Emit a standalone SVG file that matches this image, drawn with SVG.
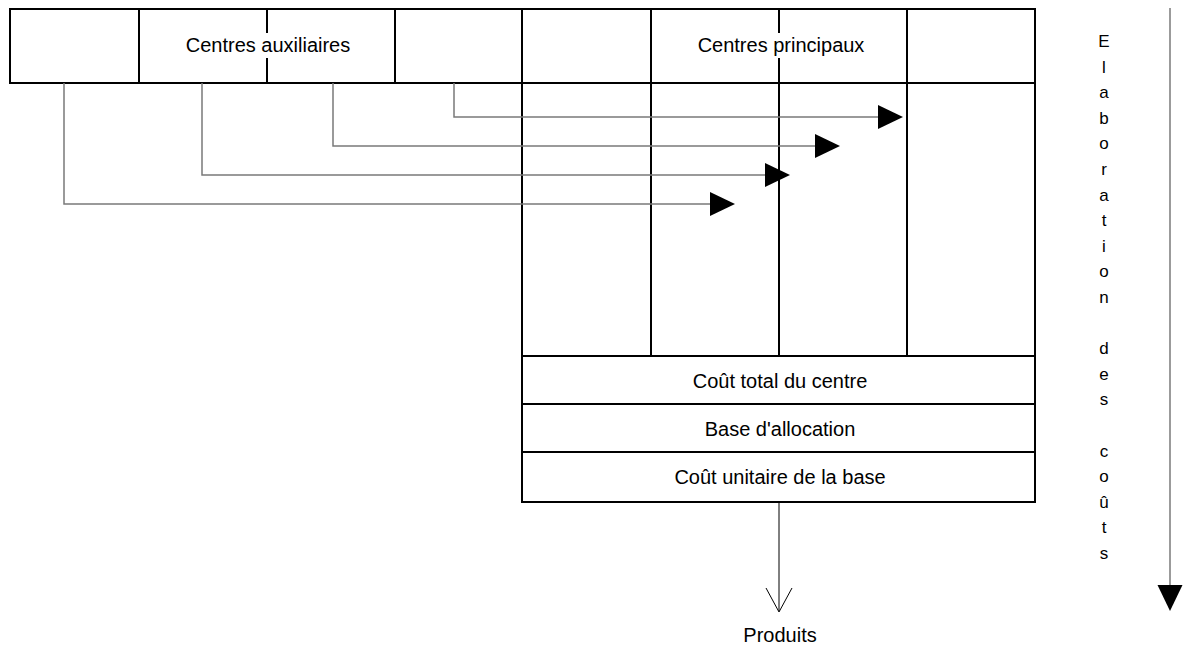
<svg xmlns="http://www.w3.org/2000/svg" width="1183" height="649" viewBox="0 0 1183 649">
<style>
.box{fill:none;stroke:#000;stroke-width:2}
.ln{fill:none;stroke:#000;stroke-width:2}
.con{fill:none;stroke:#7a7a7a;stroke-width:1.5}
.head{fill:#000;stroke:none}
.t{font-family:"Liberation Sans",Arial,sans-serif;font-size:20px;fill:#000;text-anchor:middle}
.v{font-family:"Liberation Sans",Arial,sans-serif;font-size:17px;fill:#000;text-anchor:middle}
</style>
<rect width="1183" height="649" fill="#fff"/>
<g id="centres-auxiliaires">
<rect class="box" x="10" y="9" width="512" height="74"/>
<line class="ln" x1="139" y1="9" x2="139" y2="83"/>
<line class="ln" x1="267" y1="9" x2="267" y2="33"/>
<line class="ln" x1="267" y1="58" x2="267" y2="83"/>
<line class="ln" x1="395" y1="9" x2="395" y2="83"/>
<text class="t" x="268" y="52">Centres auxiliaires</text>
</g>
<g id="centres-principaux">
<rect class="box" x="522" y="9" width="513" height="74"/>
<line class="ln" x1="651" y1="9" x2="651" y2="83"/>
<line class="ln" x1="779" y1="9" x2="779" y2="33"/>
<line class="ln" x1="779" y1="58" x2="779" y2="83"/>
<line class="ln" x1="907" y1="9" x2="907" y2="83"/>
<text class="t" x="781" y="52">Centres principaux</text>
</g>
<g id="colonnes">
<rect class="box" x="522" y="83" width="513" height="273"/>
<line class="ln" x1="651" y1="83" x2="651" y2="356"/>
<line class="ln" x1="779" y1="83" x2="779" y2="356"/>
<line class="ln" x1="907" y1="83" x2="907" y2="356"/>
</g>
<g id="cout-total">
<rect class="box" x="522" y="356" width="513" height="48"/>
<text class="t" x="780" y="388">Coût total du centre</text>
</g>
<g id="base-allocation">
<rect class="box" x="522" y="404" width="513" height="48"/>
<text class="t" x="780" y="436">Base d'allocation</text>
</g>
<g id="cout-unitaire">
<rect class="box" x="522" y="452" width="513" height="50"/>
<text class="t" x="780" y="484">Coût unitaire de la base</text>
</g>
<g id="produits">
<text class="t" x="780" y="642">Produits</text>
</g>
<g id="elaboration">
<text class="v" x="1104" y="47">E</text>
<text class="v" x="1104" y="72.6">l</text>
<text class="v" x="1104" y="98.2">a</text>
<text class="v" x="1104" y="123.8">b</text>
<text class="v" x="1104" y="149.4">o</text>
<text class="v" x="1104" y="175">r</text>
<text class="v" x="1104" y="200.6">a</text>
<text class="v" x="1104" y="226.2">t</text>
<text class="v" x="1104" y="251.8">i</text>
<text class="v" x="1104" y="277.4">o</text>
<text class="v" x="1104" y="303">n</text>
<text class="v" x="1104" y="354.2">d</text>
<text class="v" x="1104" y="379.8">e</text>
<text class="v" x="1104" y="405.4">s</text>
<text class="v" x="1104" y="456.6">c</text>
<text class="v" x="1104" y="482.2">o</text>
<text class="v" x="1104" y="507.8">û</text>
<text class="v" x="1104" y="533.4">t</text>
<text class="v" x="1104" y="559">s</text>
</g>
<g id="connectors">
<polyline class="con" points="454,83 454,117 880,117"/>
<polygon class="head" points="878,105 903,117 878,129"/>
<polyline class="con" points="333,83 333,146 817,146"/>
<polygon class="head" points="815,134 840,146 815,158"/>
<polyline class="con" points="202,83 202,175 767,175"/>
<polygon class="head" points="765,163 790,175 765,187"/>
<polyline class="con" points="64,83 64,204 712,204"/>
<polygon class="head" points="710,192 735,204 710,216"/>
<line x1="779" y1="502" x2="779" y2="611" stroke="#000" stroke-width="1"/>
<polyline points="766,588 779,612 792,588" fill="none" stroke="#000" stroke-width="1"/>
<line class="con" x1="1170" y1="8" x2="1170" y2="588"/>
<polygon class="head" points="1157.5,585 1182.5,585 1170,611"/>
</g>
</svg>
